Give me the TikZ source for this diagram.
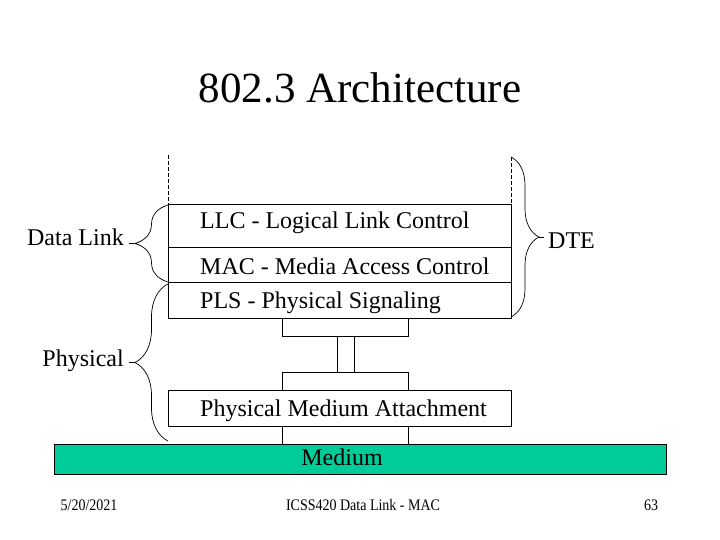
\documentclass[tikz,border=0pt]{standalone}
\usepackage{fontspec}
\setmainfont{Liberation Serif}
\usetikzlibrary{decorations.pathreplacing}
\definecolor{mediumgreen}{RGB}{0,204,153}
\tikzset{
  stackbox/.style={draw,line width=0.8pt},
  bodytext/.style={font=\fontsize{24}{28}\selectfont,inner sep=0pt},
  foottext/.style={font=\fontsize{14}{16}\selectfont,inner sep=0pt,yscale=1.15},
  bracepath/.style={decorate,decoration={brace,amplitude=#1},line width=0.7pt},
  dashline/.style={dash pattern=on 4pt off 2pt,line width=0.7pt},
}
\begin{document}
\begin{tikzpicture}[x=1pt,y=-1pt]
\useasboundingbox (0,0) rectangle (720,540);
\def\xL{168};
\def\xR{511};
\def\xa{282};
\def\xb{408};
\coordinate (Y) at (\xL,204);
\coordinate (Z) at (\xR,318);
% upper stack: LLC, MAC, PLS
\draw[stackbox] (Y) rectangle (Z);
\draw[stackbox] (\xL,247)--(\xR,247);
\draw[stackbox] (\xL,282)--(\xR,282);
\draw[dashline] (\xL,155)--(Y);
\draw[dashline] (\xR,157)--(\xR,204);
% attachment pieces
\draw[stackbox] (\xa,318) rectangle (\xb,336);
\draw[stackbox] (337,336)--(337,372);
\draw[stackbox] (354,336)--(354,372);
\draw[stackbox] (\xa,372) rectangle (\xb,390);
\draw[stackbox] (\xL,390) rectangle (\xR,426);
\draw[stackbox] (\xa,426)--(\xa,444);
\draw[stackbox] (\xb,426)--(\xb,444);
% medium
\draw[stackbox,fill=mediumgreen] (54,444) rectangle (666,474);
% braces
\draw[bracepath=33pt] (\xL,282)--(\xL,205);
\draw[line width=0.7pt] (\xL-33,243.5)--(\xL-39,243.5);
\draw[bracepath=33pt] (\xL,441)--(\xL,284);
\draw[line width=0.7pt] (\xL-33,362.5)--(\xL-39,362.5);
\draw[bracepath=28pt] (\xR,157)--(\xR,317);
\draw[line width=0.7pt] (\xR+28,237)--(\xR+33,237);
% texts
\node[font=\fontsize{43}{48}\selectfont,inner sep=0pt,anchor=base] (title) at (360,103) {802.3 Architecture};
\node[bodytext,anchor=base west] (llc) at (200,229) {LLC - Logical Link Control};
\node[bodytext,anchor=base west] (mac) at (200,274) {MAC - Media Access Control};
\node[bodytext,anchor=base west] (pls) at (200,308) {PLS - Physical Signaling};
\node[bodytext,anchor=base west] (pma) at (200,416) {Physical Medium Attachment};
\node[bodytext,anchor=base] (medium) at (342,465) {Medium};
\node[bodytext,anchor=base east] (datalink) at (124,245) {Data Link};
\node[bodytext,anchor=base east] (physical) at (124,366) {Physical};
\node[bodytext,anchor=base west] (dte) at (548,248) {DTE};
\node[foottext,anchor=base] (date) at (89,510) {5/20/2021};
\node[foottext,anchor=base] (course) at (363,510) {ICSS420 Data Link - MAC};
\node[foottext,anchor=base] (page) at (651,510) {63};
\end{tikzpicture}
\end{document}
